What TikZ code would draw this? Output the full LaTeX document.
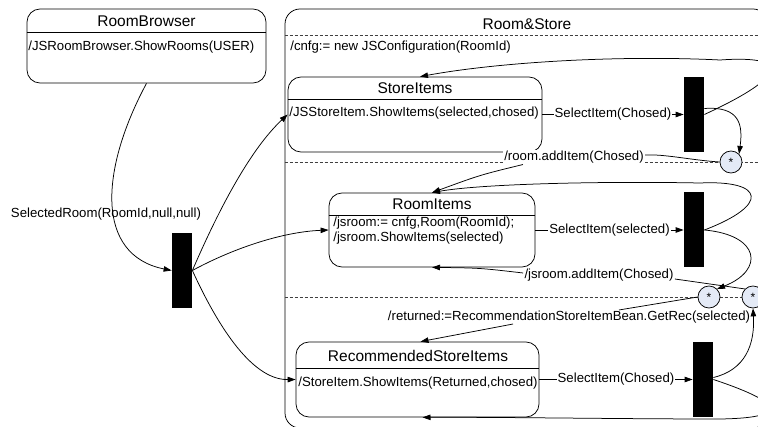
\documentclass[tikz,border=0pt]{standalone}
\usepackage{fontspec}
\setmainfont{Liberation Sans}
\usetikzlibrary{arrows.meta}
\definecolor{starfill}{RGB}{228,234,246}
\begin{document}
\begin{tikzpicture}[x=1pt,y=-1pt,line width=0.75pt,
  statebox/.style={draw,rounded corners=13pt,inner sep=0pt},
  ttl/.style={font=\fontsize{15.5}{17}\selectfont,inner sep=0pt},
  txt/.style={font=\fontsize{13.2}{15}\selectfont,inner sep=0pt,anchor=west},
  lbl/.style={font=\fontsize{13.2}{15}\selectfont,inner sep=1pt,fill=white},
  bar/.style={fill=black,draw=none,inner sep=0pt,minimum width=20pt,minimum height=75pt},
  star/.style={circle,draw,fill=starfill,minimum size=22pt,inner sep=0pt,font=\fontsize{12}{12}\selectfont},
  arr/.style={-{Triangle[length=8pt,width=5.5pt]}},
  sepline/.style={dash pattern=on 3pt off 2pt,line width=0.6pt,draw=black!75}]
\useasboundingbox (0,0) rectangle (758,427);
\clip (0,0) rectangle (758,427);

% RoomBrowser
\node[statebox,minimum width=239pt,minimum height=74pt] (rb) at (146.5,46) {};
\draw (rb.west |- 0,32) -- (rb.east |- 0,32);
\node[ttl] (rbt) at (146.5,21) {RoomBrowser};
\node[txt] (rbx) at (28,47) {/JSRoomBrowser.ShowRooms(USER)};

% Room&Store
\node[statebox,rounded corners=15pt,minimum width=483pt,minimum height=419pt] (rs0) at (526.5,218.5) {};
\node[ttl] (rs0t) at (527,24) {Room\&Store};
\draw[sepline] (rs0.west |- 0,35) -- (rs0.east |- 0,35);
\draw[sepline] (rs0.west |- 0,162) -- (rs0.east |- 0,162);
\draw[sepline] (rs0.west |- 0,297) -- (rs0.east |- 0,297);
\node[txt] (rs0x) at (290,47) {/cnfg:= new JSConfiguration(RoomId)};

% StoreItems
\node[statebox,minimum width=254pt,minimum height=75pt] (si) at (415,114.5) {};
\draw (si.west |- 0,99) -- (si.east |- 0,99);
\node[ttl] (sit) at (415,88) {StoreItems};
\node[txt] (six) at (289,113) {/JSStoreItem.ShowItems(selected,chosed)};

% RoomItems
\node[statebox,minimum width=206pt,minimum height=74pt] (ri) at (432,230) {};
\draw (ri.west |- 0,215) -- (ri.east |- 0,215);
\node[ttl] (rit) at (432,204) {RoomItems};
\node[txt] (rix1) at (333,223) {/jsroom:= cnfg,Room(RoomId);};
\node[txt] (rix2) at (333,238) {/jsroom.ShowItems(selected)};

% RecommendedStoreItems
\node[statebox,minimum width=243pt,minimum height=75pt] (rs) at (417.5,379.5) {};
\draw (rs.west |- 0,368) -- (rs.east |- 0,368);
\node[ttl] (rst) at (418,356) {RecommendedStoreItems};
\node[txt] (rsx) at (298,383) {/StoreItem.ShowItems(Returned,chosed)};

% bars
\node[bar] (bar0) at (182,270.5) {};
\node[bar] (bar1) at (694,114.5) {};
\node[bar] (bar2) at (694,230) {};
\node[bar] (bar3) at (703,379.5) {};

% history circles
\node[star] (c1) at (731,162) {*};
\node[star] (c2) at (709,297) {*};
\node[star] (c3) at (753,297) {*};

% RoomBrowser -> fork
\draw[arr] (rb.south) .. controls (100,170) and (95,255) .. (bar0.west);
\node[font=\fontsize{13.2}{15}\selectfont,inner sep=0pt] (selroom) at (106,214) {SelectedRoom(RoomId,null,null)};

% fork -> states
\draw[arr] (bar0.east) .. controls (225,195) and (255,145) .. (si.west);
\draw[arr] (bar0.east) .. controls (230,250) and (280,232) .. (ri.west);
\draw[arr] (bar0.east) .. controls (215,320) and (250,380) .. (rs.west);

% select transitions
\draw[arr] (si.east) -- node[lbl] (l1) {SelectItem(Chosed)} (bar1.west);
\draw[arr] (ri.east) -- node[lbl] (l2) {SelectItem(selected)} (bar2.west);
\draw[arr] (rs.east) -- node[lbl] (l3) {SelectItem(Chosed)} (bar3.west);

% bar1 loops
\draw[arr] (bar1.east) .. controls (790,75) and (790,55) .. (720,60)
  .. controls (620,55) and (500,62) .. ([xshift=5pt]si.north);
\draw[arr] ([yshift=6pt]bar1.east) .. controls (740,106) and (743,125) .. (c1.north east);

% c1 -> RoomItems
\node[lbl] (lb1) at (574,157) {/room.addItem(Chosed)};
\draw (c1.west) .. controls (690,160) and (665,154) .. ([yshift=2pt]lb1.east);
\draw[arr] ([xshift=20pt]lb1.south west) .. controls (480,175) .. (ri.north);

% bar2 loops
\draw[arr] (bar2.east) .. controls (770,205) and (765,180) .. (700,183)
  .. controls (600,181) and (480,184) .. (ri.north);
\draw[arr] (bar2.east) .. controls (760,235) and (765,270) .. (c2.north east);

% c3 -> RoomItems bottom
\node[lbl] (lb2) at (599,275) {/jsroom.addItem(Chosed)};
\draw (c3.north west) -- ([yshift=-4pt]lb2.east);
\draw[arr] ([yshift=2pt]lb2.west) .. controls (480,268) .. (ri.south);

% c2 -> RecommendedStoreItems
\node[lbl,inner sep=0.5pt] (lb3) at (569,317) {/returned:=RecommendationStoreItemBean.GetRec(selected)};
\draw (c2.west) -- ([xshift=50pt]lb3.north);
\draw[arr] ([xshift=-56pt]lb3.south) .. controls (470,332) .. ([xshift=3pt]rs.north);

% bar3 loops
\draw[arr] ([yshift=2pt]bar3.east) .. controls (745,370) and (755,345) .. (c3.south);
\draw[arr] (bar3.east) .. controls (790,405) and (785,418) .. (720,419)
  .. controls (620,419) and (500,417) .. ([xshift=5pt]rs.south);
\end{tikzpicture}
\end{document}
